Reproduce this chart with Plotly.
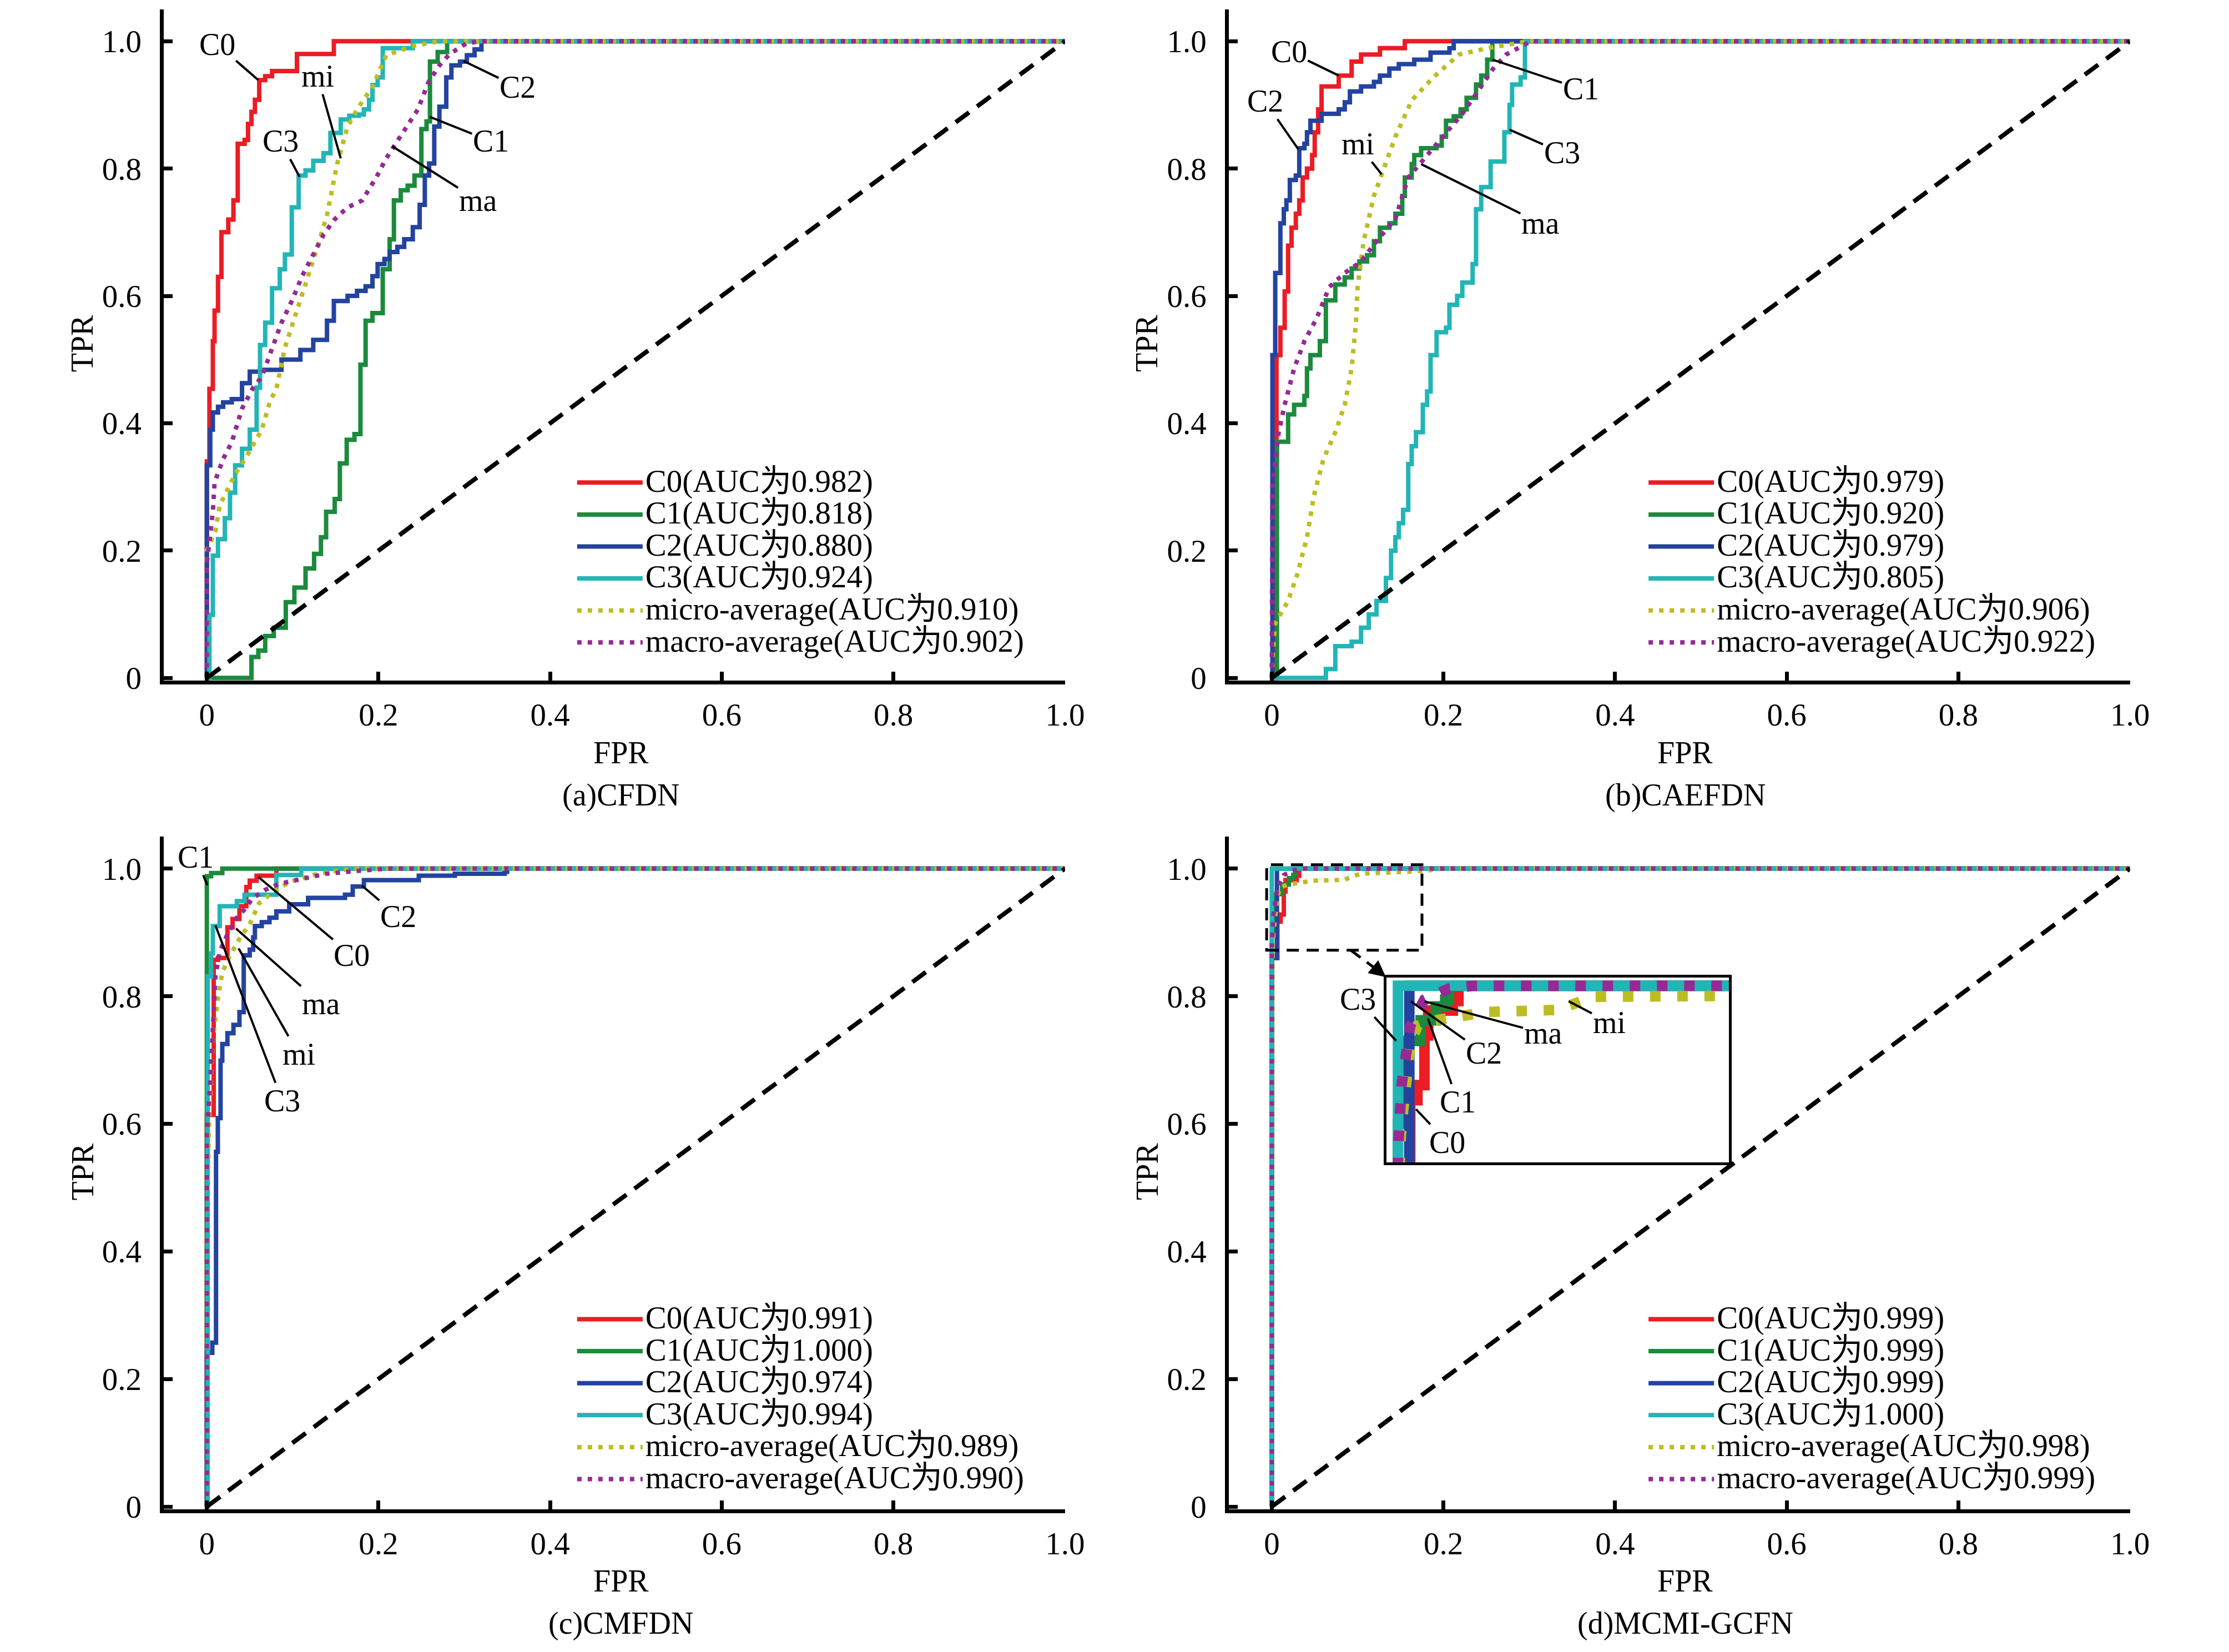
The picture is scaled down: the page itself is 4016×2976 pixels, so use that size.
import plotly.graph_objects as go

FONT = 'Liberation Serif, Times New Roman, Noto Sans CJK SC, serif'

# (FPR, TPR) points
# (a) CFDN
a_c0 = [(0, 0), (0, 0.34), (0.003, 0.454), (0.007, 0.529), (0.009, 0.577), (0.013, 0.63), (0.017, 0.70),
        (0.025, 0.72), (0.031, 0.75), (0.036, 0.839), (0.044, 0.845), (0.048, 0.87), (0.052, 0.889),
        (0.056, 0.908), (0.061, 0.939), (0.068, 0.945), (0.076, 0.953), (0.105, 0.98), (0.148, 0.99),
        (0.148, 1.0), (1, 1)]
a_c1 = [(0, 0), (0.052, 0.033), (0.060, 0.043), (0.068, 0.066), (0.078, 0.079), (0.092, 0.119), (0.102, 0.142),
        (0.115, 0.172), (0.125, 0.195), (0.133, 0.221), (0.139, 0.261), (0.149, 0.281), (0.155, 0.337),
        (0.163, 0.374), (0.172, 0.383), (0.179, 0.492), (0.185, 0.561), (0.193, 0.573), (0.205, 0.642),
        (0.213, 0.689), (0.218, 0.750), (0.226, 0.766), (0.234, 0.773), (0.242, 0.789), (0.250, 0.862),
        (0.256, 0.874), (0.260, 0.968), (0.269, 0.983), (0.280, 1.0), (1, 1)]
a_c2 = [(0, 0), (0, 0.334), (0.004, 0.39), (0.007, 0.417), (0.013, 0.426), (0.019, 0.433), (0.029, 0.438),
        (0.041, 0.463), (0.050, 0.481), (0.062, 0.484), (0.087, 0.50), (0.109, 0.515), (0.124, 0.531),
        (0.140, 0.561), (0.148, 0.592), (0.164, 0.60), (0.175, 0.608), (0.185, 0.615), (0.193, 0.631),
        (0.199, 0.65), (0.207, 0.658), (0.213, 0.669), (0.222, 0.677), (0.230, 0.689), (0.240, 0.708),
        (0.248, 0.743), (0.254, 0.789), (0.259, 0.808), (0.265, 0.866), (0.271, 0.897), (0.279, 0.943),
        (0.285, 0.962), (0.295, 0.968), (0.303, 0.978), (0.312, 0.987), (0.320, 0.997), (0.320, 1.0), (1, 1)]
a_c3 = [(0, 0), (0.003, 0.099), (0.007, 0.192), (0.013, 0.218), (0.021, 0.251), (0.027, 0.291), (0.033, 0.334),
        (0.041, 0.36), (0.05, 0.39), (0.058, 0.456), (0.062, 0.523), (0.068, 0.558), (0.076, 0.612),
        (0.085, 0.642), (0.091, 0.665), (0.099, 0.739), (0.107, 0.789), (0.115, 0.797), (0.124, 0.812),
        (0.136, 0.824), (0.144, 0.856), (0.156, 0.877), (0.166, 0.883), (0.177, 0.885), (0.183, 0.893),
        (0.189, 0.908), (0.193, 0.931), (0.199, 0.943), (0.205, 0.989), (0.24, 1.0), (1, 1)]
a_mi = [(0, 0), (0, 0.2), (0.01, 0.231), (0.015, 0.271), (0.025, 0.298), (0.033, 0.32), (0.046, 0.347),
        (0.058, 0.374), (0.064, 0.39), (0.074, 0.436), (0.081, 0.454), (0.091, 0.519), (0.103, 0.569),
        (0.115, 0.615), (0.128, 0.673), (0.14, 0.727), (0.152, 0.808), (0.164, 0.866), (0.177, 0.897),
        (0.193, 0.928), (0.209, 0.978), (0.242, 0.993), (0.271, 1.0), (1, 1)]
a_ma = [(0, 0), (0, 0.18), (0.007, 0.261), (0.009, 0.307), (0.019, 0.344), (0.029, 0.37), (0.041, 0.423),
        (0.054, 0.456), (0.064, 0.473), (0.074, 0.511), (0.087, 0.558), (0.099, 0.592), (0.111, 0.631),
        (0.124, 0.665), (0.136, 0.696), (0.148, 0.719), (0.164, 0.739), (0.181, 0.75), (0.197, 0.785),
        (0.209, 0.816), (0.218, 0.835), (0.234, 0.866), (0.246, 0.893), (0.258, 0.935), (0.271, 0.962),
        (0.283, 0.98), (0.303, 0.997), (0.32, 1.0), (1, 1)]

# (b) CAEFDN
b_c0 = [(0, 0), (0.0055, 0.507), (0.01, 0.55), (0.015, 0.607), (0.019, 0.679), (0.023, 0.707), (0.028, 0.729),
        (0.032, 0.75), (0.036, 0.786), (0.041, 0.8), (0.047, 0.821), (0.05, 0.857), (0.054, 0.893),
        (0.058, 0.929), (0.078, 0.946), (0.093, 0.968), (0.104, 0.979), (0.126, 0.989), (0.155, 1.0), (1, 1)]
b_c1 = [(0, 0), (0.006, 0.371), (0.019, 0.414), (0.026, 0.429), (0.038, 0.443), (0.041, 0.486), (0.045, 0.507),
        (0.056, 0.529), (0.063, 0.593), (0.074, 0.618), (0.085, 0.629), (0.093, 0.643), (0.102, 0.654),
        (0.111, 0.664), (0.119, 0.686), (0.126, 0.707), (0.137, 0.714), (0.144, 0.729), (0.152, 0.757),
        (0.155, 0.786), (0.163, 0.807), (0.166, 0.821), (0.174, 0.832), (0.192, 0.836), (0.198, 0.85),
        (0.203, 0.875), (0.212, 0.882), (0.22, 0.893), (0.227, 0.911), (0.238, 0.932), (0.244, 0.946),
        (0.251, 0.971), (0.257, 1.0), (1, 1)]
b_c2 = [(0, 0), (0.0007, 0.507), (0.004, 0.636), (0.01, 0.714), (0.014, 0.736), (0.017, 0.75), (0.021, 0.782),
        (0.028, 0.789), (0.032, 0.832), (0.038, 0.839), (0.041, 0.857), (0.045, 0.875), (0.058, 0.886),
        (0.078, 0.893), (0.085, 0.904), (0.091, 0.921), (0.104, 0.929), (0.119, 0.936), (0.126, 0.946),
        (0.137, 0.957), (0.148, 0.964), (0.166, 0.971), (0.185, 0.982), (0.207, 0.989), (0.212, 1.0), (1, 1)]
b_c3 = [(0, 0), (0.063, 0.014), (0.074, 0.05), (0.093, 0.057), (0.104, 0.079), (0.113, 0.1), (0.122, 0.121),
        (0.133, 0.157), (0.139, 0.2), (0.144, 0.221), (0.148, 0.243), (0.153, 0.264), (0.159, 0.336),
        (0.163, 0.364), (0.168, 0.386), (0.176, 0.429), (0.181, 0.45), (0.185, 0.507), (0.192, 0.543),
        (0.203, 0.55), (0.207, 0.586), (0.216, 0.6), (0.222, 0.621), (0.234, 0.65), (0.238, 0.736),
        (0.244, 0.771), (0.255, 0.811), (0.271, 0.857), (0.277, 0.9), (0.28, 0.932), (0.29, 0.943),
        (0.295, 1.0), (1, 1)]
b_mi = [(0, 0), (0.0007, 0.029), (0.004, 0.086), (0.019, 0.121), (0.03, 0.164), (0.041, 0.221), (0.049, 0.286),
        (0.06, 0.343), (0.074, 0.386), (0.085, 0.429), (0.093, 0.486), (0.098, 0.557), (0.1, 0.614),
        (0.107, 0.686), (0.119, 0.757), (0.13, 0.8), (0.144, 0.85), (0.163, 0.907), (0.188, 0.943),
        (0.218, 0.979), (0.251, 0.989), (0.299, 1.0), (1, 1)]
b_ma = [(0, 0), (0.0007, 0.3), (0.008, 0.386), (0.015, 0.429), (0.026, 0.486), (0.038, 0.529), (0.052, 0.564),
        (0.067, 0.614), (0.085, 0.636), (0.104, 0.654), (0.122, 0.686), (0.144, 0.721), (0.159, 0.786),
        (0.181, 0.821), (0.2, 0.85), (0.222, 0.886), (0.24, 0.921), (0.258, 0.957), (0.273, 0.979),
        (0.291, 0.993), (0.302, 1.0), (1, 1)]

# (c) CMFDN
c_c0 = [(0, 0), (0, 0.614), (0.008, 0.857), (0.013, 0.86), (0.024, 0.908), (0.03, 0.921), (0.038, 0.941),
        (0.046, 0.971), (0.05, 0.981), (0.058, 0.989), (0.081, 1.0), (1, 1)]
c_c1 = [(0, 0), (0, 0.988), (0.005, 0.993), (0.018, 1.0), (1, 1)]
c_c2 = [(0, 0), (0, 0.241), (0.0064, 0.257), (0.0107, 0.556), (0.0128, 0.609), (0.016, 0.699), (0.018, 0.725),
        (0.024, 0.742), (0.031, 0.755), (0.038, 0.775), (0.043, 0.864), (0.05, 0.873), (0.054, 0.892),
        (0.056, 0.91), (0.064, 0.916), (0.073, 0.923), (0.081, 0.933), (0.096, 0.944), (0.118, 0.954),
        (0.161, 0.959), (0.17, 0.972), (0.183, 0.982), (0.247, 0.989), (0.289, 0.992), (0.347, 0.995),
        (0.35, 1.0), (1, 1)]
c_c3 = [(0, 0), (0.001, 0.831), (0.005, 0.867), (0.007, 0.91), (0.015, 0.941), (0.035, 0.949), (0.044, 0.959),
        (0.081, 0.99), (0.11, 1.0), (1, 1)]
c_mi = [(0, 0), (0, 0.45), (0.003, 0.62), (0.007, 0.732), (0.013, 0.798), (0.018, 0.837), (0.027, 0.864),
        (0.038, 0.89), (0.05, 0.913), (0.061, 0.946), (0.076, 0.962), (0.096, 0.979), (0.124, 0.99),
        (0.153, 0.997), (0.181, 1.0), (1, 1)]
c_ma = [(0, 0), (0, 0.583), (0.004, 0.666), (0.007, 0.765), (0.01, 0.831), (0.015, 0.87), (0.024, 0.897),
        (0.035, 0.923), (0.044, 0.936), (0.053, 0.953), (0.067, 0.966), (0.084, 0.976), (0.11, 0.984),
        (0.139, 0.992), (0.181, 0.997), (0.21, 1.0), (1, 1)]

# (d) MCMI-GCFN
d_c0 = [(0, 0), (0, 0.86), (0.0065, 0.917), (0.0103, 0.928), (0.014, 0.964), (0.016, 0.982), (0.029, 0.989),
        (0.032, 1.0), (1, 1)]
d_c1 = [(0, 0), (0, 0.9), (0.005, 0.96), (0.012, 0.975), (0.02, 0.985), (0.025, 0.99), (0.027, 1.0), (1, 1)]
d_c2 = [(0, 0), (0, 0.86), (0.006, 0.9945), (0.006, 1.0), (1, 1)]
d_c3 = [(0, 0), (0, 1.0), (1, 1)]
d_mi = [(0, 0), (0, 0.85), (0.001, 0.88), (0.002, 0.9), (0.004, 0.93), (0.0065, 0.957), (0.0103, 0.971),
        (0.0177, 0.9745), (0.047, 0.981), (0.0845, 0.9825), (0.103, 0.992), (0.174, 0.996), (0.2, 1.0), (1, 1)]
d_ma = [(0, 0), (0, 0.88), (0.0019, 0.928), (0.0038, 0.95), (0.0065, 0.971), (0.014, 0.99), (0.027, 0.998),
        (0.04, 1.0), (1, 1)]

diag = [0, 1]

names = ['C0', 'C1', 'C2', 'C3', 'micro-average', 'macro-average']
a_auc = ['0.982', '0.818', '0.880', '0.924', '0.910', '0.902']
b_auc = ['0.979', '0.920', '0.979', '0.805', '0.906', '0.922']
c_auc = ['0.991', '1.000', '0.974', '0.994', '0.989', '0.990']
d_auc = ['0.999', '0.999', '0.999', '1.000', '0.998', '0.999']
panel_titles = ['(a)CFDN', '(b)CAEFDN', '(c)CMFDN', '(d)MCMI-GCFN']

# curve labels: (text, text_x, text_y, point_x, point_y)
a_labels = [('C0', 0.012, 0.995, 0.06, 0.939), ('mi', 0.129, 0.945, 0.156, 0.816),
            ('C3', 0.086, 0.843, 0.108, 0.787), ('C2', 0.362, 0.928, 0.299, 0.969),
            ('C1', 0.331, 0.843, 0.26, 0.881), ('ma', 0.316, 0.75, 0.216, 0.835)]
b_labels = [('C0', 0.02, 0.984, 0.078, 0.946), ('C2', -0.008, 0.906, 0.031, 0.83),
            ('mi', 0.1, 0.839, 0.128, 0.791), ('C1', 0.36, 0.925, 0.257, 0.971),
            ('C3', 0.338, 0.825, 0.277, 0.861), ('ma', 0.313, 0.714, 0.174, 0.807)]
c_labels = [('C1', -0.013, 1.018, 0.0006, 0.974), ('C0', 0.169, 0.864, 0.06, 0.987),
            ('C2', 0.223, 0.925, 0.181, 0.973), ('ma', 0.133, 0.788, 0.034, 0.906),
            ('mi', 0.107, 0.709, 0.037, 0.875), ('C3', 0.088, 0.636, 0.01, 0.911)]
d_labels = [('C3', 0.1003, 0.7957, 0.145, 0.730), ('C2', 0.247, 0.711, 0.162, 0.792),
            ('ma', 0.316, 0.742, 0.178, 0.792), ('mi', 0.393, 0.759, 0.346, 0.792),
            ('C1', 0.217, 0.634, 0.182, 0.765), ('C0', 0.2045, 0.571, 0.168, 0.623)]

colors = ['#ec1c24', '#1b8a3c', '#2343a0', '#22b5b6', '#bcbd22', '#952a95']

panels = [
    (a_c0, a_c1, a_c2, a_c3, a_mi, a_ma),
    (b_c0, b_c1, b_c2, b_c3, b_mi, b_ma),
    (c_c0, c_c1, c_c2, c_c3, c_mi, c_ma),
    (d_c0, d_c1, d_c2, d_c3, d_mi, d_ma),
]
aucs = [a_auc, b_auc, c_auc, d_auc]
labels = [a_labels, b_labels, c_labels, d_labels]

x_domains = [[0.0722, 0.4801], [0.5543, 0.9622], [0.0722, 0.4801], [0.5543, 0.9622]]
y_domains = [[0.5870, 0.9970], [0.5870, 0.9970], [0.0808, 0.4916], [0.0808, 0.4916]]
legend_pos = [(0.2580, 0.7194), (0.7430, 0.7194), (0.2580, 0.2083), (0.7430, 0.2083)]

fig = go.Figure()


def style(i, big=False):
    if i < 4:
        return dict(color=colors[i], width=19 if big else 8), 'hv'
    return dict(color=colors[i], width=19 if big else 8,
                dash='19px,30px' if big else '8px,11px'), 'linear'


for p, curves in enumerate(panels):
    ax = '' if p == 0 else str(p + 1)
    leg = 'legend' if p == 0 else 'legend' + str(p + 1)
    for i, pts in enumerate(curves):
        line, shape = style(i)
        # legend rows are packed tightly (font 42) while the text itself is drawn larger
        label = '<span style="font-size:57px">' + names[i] + '(AUC为' + aucs[p][i] + ')</span>'
        fig.add_trace(go.Scatter(
            x=[q[0] for q in pts], y=[q[1] for q in pts], mode='lines',
            line=line, line_shape=shape, name=label,
            legend=leg, xaxis='x' + ax, yaxis='y' + ax))
    fig.add_trace(go.Scatter(x=diag, y=diag, mode='lines', showlegend=False,
                             line=dict(color='black', width=8, dash='30px,18px'),
                             xaxis='x' + ax, yaxis='y' + ax))

# magnified view for panel (d)
for i, pts in enumerate(panels[3]):
    line, shape = style(i, big=True)
    fig.add_trace(go.Scatter(x=[q[0] for q in pts], y=[q[1] for q in pts], mode='lines',
                             line=line, line_shape=shape, showlegend=False,
                             xaxis='x5', yaxis='y5'))

tick_vals = [0, 0.2, 0.4, 0.6, 0.8, 1.0]
tick_text = ['0', '0.2', '0.4', '0.6', '0.8', '1.0']
layout = {}
for p in range(4):
    n = '' if p == 0 else str(p + 1)
    common = dict(tickvals=tick_vals, ticktext=tick_text, ticks='inside', ticklen=16, tickwidth=7,
                  tickcolor='black', showline=True, linewidth=7, linecolor='black', showgrid=False,
                  zeroline=False, tickfont=dict(size=57, family=FONT, color='black'))
    layout['xaxis' + n] = dict(common, domain=x_domains[p], range=[-0.05, 1.0], anchor='y' + n,
                               ticklabelstandoff=6)
    layout['yaxis' + n] = dict(common, domain=y_domains[p], range=[-0.004, 1.05], anchor='x' + n,
                               ticklabelstandoff=22)
    lx, ly = legend_pos[p]
    layout['legend' if p == 0 else 'legend' + str(p + 1)] = dict(
        x=lx, y=ly, xanchor='left', yanchor='top', bgcolor='rgba(0,0,0,0)', borderwidth=0,
        font=dict(size=42, family=FONT, color='black'), itemwidth=118, tracegroupgap=0)

layout['xaxis5'] = dict(domain=[0.6257, 0.7806], range=[-0.006, 0.175], anchor='y5', showline=True,
                        mirror=True, linewidth=5, linecolor='black', showgrid=False, zeroline=False,
                        showticklabels=False, ticks='')
layout['yaxis5'] = dict(domain=[0.2927, 0.4056], range=[0.872, 1.006], anchor='x5', showline=True,
                        mirror=True, linewidth=5, linecolor='black', showgrid=False, zeroline=False,
                        showticklabels=False, ticks='')

annotations = []
for p in range(4):
    n = '' if p == 0 else str(p + 1)
    for text, tx, ty, hx, hy in labels[p]:
        annotations.append(dict(text=text, x=hx, y=hy, ax=tx, ay=ty, xref='x' + n, yref='y' + n,
                                axref='x' + n, ayref='y' + n, showarrow=True, arrowhead=0,
                                arrowwidth=4, arrowcolor='black',
                                font=dict(size=56, family=FONT, color='black')))

title_x = [0.2791, 0.7609, 0.2791, 0.7609]
fpr_y = [0.5430, 0.5430, 0.0370, 0.0370]
sub_y = [0.5171, 0.5171, 0.0111, 0.0111]
tpr_x = [0.0354, 0.5172, 0.0354, 0.5172]
tpr_y = [0.793, 0.793, 0.287, 0.287]
for p in range(4):
    for text, x, y, ang in [('FPR', title_x[p], fpr_y[p], 0), (panel_titles[p], title_x[p], sub_y[p], 0),
                            ('TPR', tpr_x[p], tpr_y[p], -90)]:
        annotations.append(dict(text=text, x=x, y=y, xref='paper', yref='paper', textangle=ang,
                                xanchor='center', yanchor='middle', showarrow=False,
                                font=dict(size=56, family=FONT, color='black')))

# arrow head from the dashed zoom box to the magnified view
annotations.append(dict(text='', x=0.133, y=0.830, ax=0.121, ay=0.843, xref='x4', yref='y4',
                        axref='x4', ayref='y4', showarrow=True, arrowhead=2, arrowsize=1.2,
                        arrowwidth=5, arrowcolor='black'))

shapes = [
    dict(type='rect', xref='x4', yref='y4', x0=-0.006, x1=0.175, y0=0.872, y1=1.006,
         line=dict(color='black', width=5, dash='22px,14px')),
    dict(type='line', xref='x4', yref='y4', x0=0.092, y0=0.872, x1=0.124, y1=0.840,
         line=dict(color='black', width=5, dash='22px,14px')),
]

fig.update_layout(layout)
fig.update_layout(width=4016, height=2976, margin=dict(l=0, r=0, t=0, b=0),
                  paper_bgcolor='white', plot_bgcolor='white', annotations=annotations, shapes=shapes,
                  font=dict(family=FONT, size=56, color='black'))
fig.write_html('out.html')
